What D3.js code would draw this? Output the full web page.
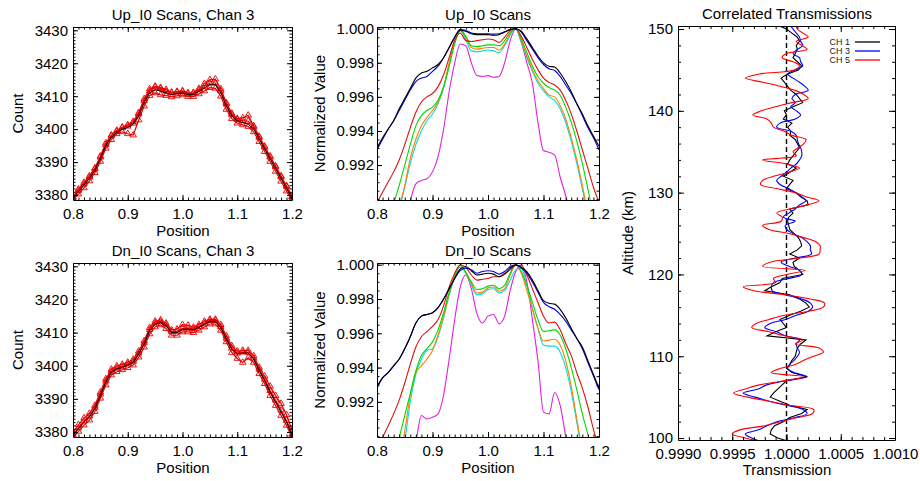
<!DOCTYPE html>
<html>
<head>
<meta charset="utf-8">
<script src="https://cdn.jsdelivr.net/npm/d3@7"></script>
<style>
body { margin: 0; background: #fff; }
svg { font-family: "Liberation Sans", Arial, sans-serif; }
.axis text { font-family: "Liberation Sans", Arial, sans-serif; font-size: 15px; fill: #000; }
.axis path, .axis line { stroke: #000; stroke-width: 1; }
.title { font-size: 15px; fill: #000; text-anchor: middle; }
</style>
</head>
<body>
<svg id="chart" width="920" height="481"></svg>
<script>
// scan positions (shared by the four scan panels)
const positions = [0.80,0.81,0.82,0.83,0.84,0.85,0.86,0.87,0.88,0.89,0.90,0.91,0.92,0.93,0.94,0.95,0.96,0.97,0.98,0.99,
  1.00,1.01,1.02,1.03,1.04,1.05,1.06,1.07,1.08,1.09,1.10,1.11,1.12,1.13,1.14,1.15,1.16,1.17,1.18,1.19,1.20];

// Up_I0 counts, channel 3: mean + individual scans
const upMean = [3379,3381,3383,3385,3387.5,3391,3395,3397.5,3399,3400,3400.5,3401.5,3404,3408,3411,3412,3411.5,3411,3410.5,3410.8,
  3411,3410.5,3410.5,3411.5,3412.5,3413.5,3413.5,3411,3407,3404,3402.5,3402,3401.5,3400,3397,3394,3391,3388,3385,3382,3379];
const upScanA = [3379.5,3381.8,3383.8,3385.8,3388.2,3391.8,3395.8,3398.2,3399.6,3400.6,3401.3,3402.3,3405.0,3409.2,3412.2,3413.0,3412.6,3412.0,3411.2,3411.4,
  3411.6,3411.0,3411.1,3412.3,3413.8,3415.0,3415.2,3412.2,3408.0,3404.8,3403.2,3403.4,3404.2,3401.0,3397.8,3394.8,3391.8,3388.8,3385.8,3382.8,3379.6];
const upScanB = [3378.6,3380.3,3382.2,3384.3,3386.8,3390.2,3394.2,3396.8,3398.6,3399.2,3398.6,3398.2,3402.8,3407.0,3410.2,3411.0,3410.4,3410.2,3409.8,3410.1,
  3410.4,3409.9,3409.9,3410.7,3411.6,3412.6,3412.4,3410.0,3406.0,3403.2,3401.8,3401.3,3400.8,3399.2,3396.2,3393.2,3390.2,3387.2,3384.2,3381.2,3378.6];
const upScanC = [3379.2,3381.4,3383.3,3385.4,3387.9,3391.5,3395.3,3397.9,3399.3,3400.4,3400.9,3401.8,3404.6,3408.6,3411.6,3412.8,3412.3,3411.5,3411.0,3411.2,
  3411.4,3410.8,3410.9,3411.9,3413.0,3414.0,3414.0,3411.6,3407.6,3404.4,3402.9,3402.6,3402.4,3400.6,3397.5,3394.5,3391.5,3388.5,3385.5,3382.6,3379.4];

// Dn_I0 counts, channel 3
const dnMean = [3379,3381,3383,3384.5,3387,3391,3395,3398,3399,3399.5,3400.2,3401,3403.5,3406.5,3410.5,3412.5,3413,3412,3410,3410,
  3411,3411,3410.8,3411.5,3412.5,3413.3,3413.3,3411.5,3408,3405,3403.5,3403.8,3403.8,3402,3398.5,3395.5,3392,3389,3386,3383,3379];
const dnScanA = [3379.8,3382.2,3384.2,3385.6,3388.0,3392.0,3396.0,3398.9,3399.9,3400.4,3401.0,3401.9,3404.4,3407.5,3411.5,3413.4,3413.8,3412.8,3410.8,3411.0,
  3412.4,3412.2,3411.6,3412.4,3413.4,3414.0,3414.0,3412.4,3409.0,3406.0,3404.4,3404.6,3404.6,3403.0,3399.5,3396.8,3393.8,3391.0,3388.6,3385.2,3380.5];
const dnScanB = [3378.4,3380.2,3382.1,3383.6,3386.2,3390.2,3394.2,3397.2,3398.2,3398.8,3399.4,3400.2,3402.6,3405.6,3409.6,3411.7,3412.3,3411.2,3409.2,3409.2,
  3410.2,3410.2,3410.0,3410.7,3411.7,3412.6,3412.6,3410.7,3407.2,3404.0,3402.2,3401.0,3402.4,3401.0,3397.6,3394.6,3391.0,3388.0,3385.0,3382.0,3378.5];
const dnScanC = [3379.1,3381.3,3383.3,3384.8,3387.4,3391.4,3395.4,3398.3,3399.3,3399.8,3400.5,3401.3,3403.8,3406.9,3410.9,3412.9,3413.4,3412.3,3410.3,3410.4,
  3411.3,3411.3,3411.1,3411.8,3412.8,3413.6,3413.6,3411.8,3408.3,3405.3,3403.8,3404.1,3404.0,3402.3,3398.9,3395.9,3392.5,3389.6,3386.6,3383.5,3379.3];

// normalized scans, one per channel colour
const chanColors = ["#000000", "#0000e0", "#e01010", "#00d800", "#ff7f00", "#00dede", "#e020e0"];
const upNorm = [
  [0.9930,0.9936,0.9941,0.9946,0.9953,0.9959,0.9965,0.9971,0.9974,0.9975,0.9977,0.9979,0.9983,0.9989,0.9995,0.9999,0.99985,0.9997,0.99965,0.99965,
   0.99965,0.99962,0.99965,0.9998,0.99995,1.0000,0.99985,0.9994,0.9989,0.9984,0.9980,0.9978,0.99775,0.9974,0.9969,0.9963,0.9956,0.9950,0.9943,0.9937,0.9931],
  [0.9929,0.9935,0.9941,0.9946,0.9952,0.9958,0.9964,0.9969,0.9971,0.9972,0.9975,0.9978,0.9983,0.9989,0.9995,0.99995,0.9999,0.99975,0.9997,0.9997,
   0.9997,0.99968,0.9997,0.99982,0.99995,1.0000,0.9998,0.9993,0.9988,0.9983,0.9979,0.99765,0.99755,0.9972,0.9967,0.9962,0.9956,0.9949,0.9942,0.9936,0.9929],
  [0.9898,0.9904,0.9910,0.9916,0.9923,0.9932,0.9942,0.9951,0.9957,0.9960,0.9962,0.9966,0.9973,0.9983,0.9993,0.99975,0.9993,0.99925,0.9993,0.99935,
   0.9994,0.99935,0.9992,0.9995,0.9999,1.0000,0.99955,0.9989,0.9982,0.9976,0.9971,0.99685,0.9967,0.9964,0.9958,0.9950,0.9940,0.9929,0.9918,0.9907,0.9898],
  [0.9860,0.9870,0.9882,0.9897,0.9908,0.9920,0.9932,0.9943,0.9949,0.9952,0.9954,0.9958,0.9966,0.9978,0.9991,0.9999,0.99955,0.9990,0.99895,0.9990,
   0.99905,0.99905,0.9990,0.9993,0.9998,1.0000,0.9994,0.9986,0.9978,0.9972,0.9968,0.99655,0.9964,0.9961,0.9954,0.9945,0.9934,0.9921,0.9906,0.9890,0.9876],
  [0.9840,0.9852,0.9865,0.9878,0.9895,0.9908,0.9924,0.9935,0.9943,0.9948,0.9952,0.9957,0.9966,0.9980,0.9994,0.99995,0.9995,0.9989,0.9988,0.99885,
   0.9989,0.9989,0.99875,0.9991,0.9997,1.0000,0.9993,0.9984,0.9976,0.99695,0.9965,0.9961,0.9960,0.9955,0.9947,0.9936,0.9923,0.9908,0.9892,0.9878,0.9865],
  [0.9838,0.9850,0.9863,0.9877,0.9893,0.9907,0.9921,0.9932,0.9940,0.9946,0.9950,0.9956,0.9965,0.9979,0.9993,0.9999,0.99935,0.9987,0.99865,0.9987,
   0.99875,0.9987,0.9986,0.9990,0.9996,1.0000,0.9992,0.9983,0.9975,0.9968,0.99635,0.9960,0.9958,0.9953,0.9945,0.9934,0.9921,0.9906,0.9890,0.9876,0.9863],
  [0.9800,0.9810,0.9825,0.9845,0.9865,0.9885,0.9899,0.9909,0.9911,0.9912,0.9916,0.9925,0.9941,0.9963,0.9980,0.9991,0.9990,0.9980,0.99725,0.9972,
   0.99725,0.99715,0.9972,0.9980,0.9993,1.0000,0.9992,0.9980,0.9968,0.9945,0.99285,0.99275,0.9926,0.9913,0.9902,0.9890,0.9875,0.9860,0.9845,0.9830,0.9815]
];
const dnNorm = [
  [0.9929,0.9934,0.9937,0.9941,0.9945,0.9951,0.9958,0.9966,0.9970,0.9971,0.9972,0.9975,0.9980,0.9986,0.9992,0.99975,0.9999,0.99965,0.9994,0.99945,
   0.9995,0.99945,0.9993,0.99945,0.9998,1.0000,0.99985,0.9996,0.9991,0.9985,0.9979,0.99775,0.9977,0.9974,0.9969,0.9963,0.9957,0.9952,0.9944,0.9936,0.9928],
  [0.9928,0.9934,0.9937,0.9941,0.9945,0.9951,0.9958,0.9966,0.9970,0.9971,0.9972,0.9975,0.9980,0.9986,0.9992,0.99965,0.9998,0.9997,0.9995,0.9996,
   0.99965,0.9996,0.99945,0.9996,0.9999,1.0000,0.9998,0.9995,0.9990,0.9984,0.9978,0.99755,0.9974,0.9971,0.9967,0.9962,0.9957,0.9951,0.9943,0.9935,0.9927],
  [0.9890,0.9899,0.9906,0.9913,0.9921,0.9931,0.9942,0.9952,0.9958,0.9961,0.9964,0.9968,0.9976,0.9987,0.9995,1.0000,0.99985,0.9994,0.9991,0.99915,
   0.9992,0.9993,0.9993,0.9995,0.9997,0.99995,0.99995,0.9994,0.9986,0.9978,0.9970,0.9966,0.99665,0.9962,0.9954,0.9947,0.9937,0.9928,0.9917,0.9904,0.9893],
  [0.9850,0.9862,0.9874,0.9886,0.9899,0.9912,0.9925,0.9938,0.9947,0.9951,0.9955,0.9962,0.9972,0.9984,0.9993,0.99995,0.99955,0.9990,0.99855,0.9986,
   0.99875,0.9988,0.9986,0.9988,0.9995,1.0000,0.9996,0.9988,0.9978,0.9968,0.9961,0.99615,0.9962,0.9959,0.9951,0.9940,0.9927,0.9913,0.9901,0.9888,0.9875],
  [0.9830,0.9842,0.9855,0.9869,0.9885,0.9903,0.9924,0.9937,0.9941,0.9945,0.9950,0.9959,0.9970,0.9983,0.9994,1.0000,0.99955,0.9989,0.99835,0.9984,
   0.99865,0.9987,0.99845,0.9986,0.9994,1.0000,0.9995,0.9985,0.9974,0.9963,0.99555,0.9956,0.99565,0.9953,0.9944,0.9929,0.9910,0.9892,0.9878,0.9865,0.9852],
  [0.9828,0.9840,0.9853,0.9866,0.9880,0.9897,0.9920,0.9936,0.9945,0.9950,0.9951,0.9958,0.9969,0.9982,0.9993,0.99985,0.9995,0.9988,0.99825,0.9983,
   0.99855,0.9986,0.99835,0.9985,0.9991,0.9997,0.9998,0.9988,0.9975,0.9963,0.9953,0.99525,0.99525,0.9949,0.9940,0.9926,0.9908,0.9890,0.9876,0.9863,0.9850],
  [0.9790,0.9800,0.9815,0.9835,0.9855,0.9875,0.9890,0.9897,0.9912,0.9910,0.9911,0.9913,0.9924,0.9945,0.9968,0.9987,0.9994,0.9986,0.99715,0.9966,
   0.9970,0.9971,0.99655,0.9970,0.9985,0.9996,1.0000,0.9990,0.9968,0.9944,0.9914,0.9913,0.99255,0.9918,0.9900,0.9883,0.9868,0.9853,0.9838,0.9823,0.9808]
];

// correlated transmission profiles
const altitudes = [150.5,150,149.5,149,148.5,148,147.5,147,146.5,146,145.5,145,144.5,144,143.5,143,142.5,142,141.5,141,
  140.5,140,139.5,139,138.5,138,137.5,137,136.5,136,135.5,135,134.5,134,133.5,133,132.5,132,131.5,131,
  130.5,130,129.5,129,128.5,128,127.5,127,126.5,126,125.5,125,124.5,124,123.5,123,122.5,122,121.5,121,
  120.5,120,119.5,119,118.5,118,117.5,117,116.5,116,115.5,115,114.5,114,113.5,113,112.5,112,111.5,111,
  110.5,110,109.5,109,108.5,108,107.5,107,106.5,106,105.5,105,104.5,104,103.5,103,102.5,102,101.5,101,
  100.5,100,99.5];
const ch1 = [0.99991,1.00000,1.00005,1.00010,1.00012,1.00009,1.00010,1.00008,1.00006,1.00010,
  1.00014,1.00011,1.00001,0.99995,0.99998,1.00001,1.00004,1.00009,1.00012,1.00015,
  1.00006,0.99998,1.00000,0.99997,1.00005,1.00001,1.00004,1.00003,1.00008,1.00010,
  1.00012,1.00009,1.00006,1.00003,1.00001,1.00009,1.00003,0.99997,1.00006,1.00003,
  1.00000,1.00009,1.00013,1.00019,1.00020,1.00003,1.00006,1.00002,1.00001,1.00002,
  1.00003,1.00007,1.00011,1.00013,1.00014,1.00010,1.00003,1.00012,1.00006,1.00007,
  1.00012,1.00015,0.99996,0.99994,0.99986,0.99980,1.00003,1.00012,1.00018,1.00021,
  1.00013,1.00003,0.99994,0.99997,1.00000,0.99990,0.99982,1.00018,1.00013,1.00010,
  1.00009,1.00008,1.00005,1.00003,1.00000,1.00005,1.00019,1.00000,0.99996,0.99992,
  0.99988,0.99985,0.99994,1.00003,1.00019,1.00014,1.00003,0.99997,0.99989,0.99986,
  0.99985,0.99992,1.00004];
const ch3 = [1.00003,1.00006,1.00009,1.00012,1.00013,1.00015,1.00010,1.00006,1.00012,1.00013,
  1.00015,1.00008,1.00001,1.00006,1.00012,1.00017,1.00020,1.00008,1.00005,1.00008,
  1.00004,1.00009,1.00013,1.00008,0.99994,0.99991,1.00004,1.00009,1.00010,1.00011,
  1.00013,1.00014,1.00014,1.00012,1.00009,1.00004,1.00000,0.99995,0.99991,0.99994,
  1.00002,1.00008,1.00014,1.00018,1.00012,1.00008,1.00002,0.99997,1.00008,0.99999,
  1.00000,1.00006,1.00014,1.00019,1.00022,1.00022,1.00023,1.00008,0.99995,1.00002,
  1.00012,1.00014,1.00002,0.99988,0.99986,0.99987,1.00000,1.00014,1.00022,1.00024,
  1.00020,1.00009,0.99999,0.99985,0.99980,0.99991,0.99999,1.00012,1.00009,1.00010,
  1.00012,1.00010,1.00007,1.00003,1.00001,1.00007,1.00019,0.99999,0.99982,0.99974,
  0.99960,0.99971,0.99984,1.00000,1.00015,1.00019,1.00008,0.99991,0.99982,0.99974,
  0.99962,0.99968,0.99978];
const ch5 = [1.00009,1.00010,1.00015,1.00020,1.00009,1.00014,1.00019,1.00000,0.99996,1.00006,
  1.00012,1.00007,0.99975,0.99962,0.99978,0.99994,1.00008,1.00016,1.00020,1.00005,
  0.99990,0.99977,0.99969,0.99982,0.99986,0.99988,0.99998,1.00005,1.00018,1.00016,
  1.00011,1.00006,1.00009,0.99978,1.00000,1.00012,1.00002,0.99988,0.99978,0.99976,
  0.99991,1.00008,1.00018,1.00030,1.00019,1.00003,0.99991,0.99996,0.99995,0.99978,
  0.99984,1.00002,1.00016,1.00027,1.00031,1.00031,1.00030,1.00012,0.99985,0.99978,
  1.00017,1.00000,0.99988,0.99990,0.99960,0.99970,1.00000,1.00022,1.00035,1.00034,
  1.00020,0.99998,0.99984,0.99972,0.99968,0.99984,0.99998,1.00015,1.00008,1.00030,
  1.00034,1.00025,1.00016,1.00008,0.99994,0.99986,1.00016,0.99998,0.99975,0.99962,
  0.99951,0.99964,0.99984,1.00002,1.00025,1.00024,1.00010,0.99995,0.99980,0.99957,
  0.99950,0.99962,0.99980];
const channelNames = ["CH 1", "CH 3", "CH 5"];
const channelColors = ["#000000", "#0000ff", "#ff0000"];

// tick values
const posTicks = [0.8, 0.9, 1.0, 1.1, 1.2];
const countTicks = [3380, 3390, 3400, 3410, 3420, 3430];
const normTicks = [0.992, 0.994, 0.996, 0.998, 1.000];
const transTicks = [0.9990, 0.9995, 1.0000, 1.0005, 1.0010];
const altTicks = [100, 110, 120, 130, 140, 150];

const svg = d3.select("#chart");

function minorTicks(lo, hi, step) {
  const n = Math.round((hi - lo) / step);
  return d3.range(n + 1).map(i => +(lo + i * step).toFixed(6));
}

function drawFrame(g, x, y, f) {
  const [x0, x1] = x.range();
  const [yb, yt] = y.range();
  const xMinor = minorTicks(f.xMinor[0], f.xMinor[1], f.xMinor[2]);
  const yMinor = minorTicks(f.yMinor[0], f.yMinor[1], f.yMinor[2]);
  const sides = [
    { ax: d3.axisBottom(x), t: `translate(0,${yb})`, major: f.xTicks, minor: xMinor, lab: true, pad: f.xPad, fmt: f.xFmt },
    { ax: d3.axisTop(x), t: `translate(0,${yt})`, major: f.xTicks, minor: xMinor, lab: false },
    { ax: d3.axisLeft(y), t: `translate(${x0},0)`, major: f.yTicks, minor: yMinor, lab: true, pad: f.yPad, fmt: f.yFmt },
    { ax: d3.axisRight(y), t: `translate(${x1},0)`, major: f.yTicks, minor: yMinor, lab: false }
  ];
  sides.forEach(s => {
    const gm = g.append("g").attr("class", "axis").attr("transform", s.t);
    gm.call(s.ax.tickValues(s.minor).tickSize(-f.tick / 2).tickSizeOuter(0).tickFormat(""));
    gm.select(".domain").remove();
    const ga = g.append("g").attr("class", "axis").attr("transform", s.t);
    ga.call(s.ax.tickValues(s.major).tickSize(-f.tick).tickSizeOuter(0)
      .tickPadding(s.lab ? s.pad : 0)
      .tickFormat(s.lab ? d3.format(s.fmt) : ""));
  });
}

function addClip(id, x, y) {
  svg.append("clipPath").attr("id", id).append("rect")
    .attr("x", x.range()[0]).attr("y", y.range()[1])
    .attr("width", x.range()[1] - x.range()[0])
    .attr("height", y.range()[0] - y.range()[1]);
}

function title(txt, cx, cy) {
  svg.append("text").attr("class", "title").attr("x", cx).attr("y", cy).text(txt);
}

function yTitle(txt, cx, cy) {
  svg.append("text").attr("class", "title")
    .attr("transform", `translate(${cx},${cy}) rotate(-90)`)
    .attr("dy", "0.35em").text(txt);
}

// count panels
function countPanel(id, top, bottom, mean, scans, name) {
  const x = d3.scaleLinear().domain([0.8, 1.2]).range([73, 292]);
  const y = d3.scaleLinear().domain([3378.5, 3431]).range([bottom, top]);
  addClip(id, x, y);
  const g = svg.append("g").attr("clip-path", `url(#${id})`);
  const line = d3.line().x((d, i) => x(positions[i])).y(d => y(d));
  const tri = d3.symbol().type(d3.symbolTriangle).size(18);
  scans.forEach(s => {
    g.append("path").attr("d", line(s)).attr("fill", "none")
      .attr("stroke", "#e00000").attr("stroke-width", 1.2);
    g.selectAll(null).data(s).enter().append("path")
      .attr("d", tri)
      .attr("transform", (d, i) => `translate(${x(positions[i])},${y(d)})`)
      .attr("fill", "none").attr("stroke", "#e80000").attr("stroke-width", 0.9);
  });
  g.append("path").attr("d", line(mean)).attr("fill", "none")
    .attr("stroke", "#000").attr("stroke-width", 1);
  drawFrame(svg.append("g"), x, y, {
    xTicks: posTicks, yTicks: countTicks, xMinor: [0.8, 1.2, 0.01], yMinor: [3379, 3431, 1],
    tick: 5, xPad: 8, yPad: 5, xFmt: ".1f", yFmt: "d"
  });
  title(name, 183, top - 7);
  title("Position", 183, bottom + 35.5);
  yTitle("Count", 18, (top + bottom) / 2);
}

// normalized panels
function normPanel(id, top, bottom, curves, name) {
  const x = d3.scaleLinear().domain([0.8, 1.2]).range([377, 599]);
  const y = d3.scaleLinear().domain([0.98995, 1.0001]).range([bottom, top]);
  addClip(id, x, y);
  const g = svg.append("g").attr("clip-path", `url(#${id})`);
  const line = d3.line().curve(d3.curveMonotoneX).x((d, i) => x(positions[i])).y(d => y(d));
  curves.slice().reverse().forEach((c, k) => {
    const idx = curves.length - 1 - k;
    g.append("path").attr("d", line(c)).attr("fill", "none")
      .attr("stroke", chanColors[idx]).attr("stroke-width", 1.1);
  });
  drawFrame(svg.append("g"), x, y, {
    xTicks: posTicks, yTicks: normTicks, xMinor: [0.8, 1.2, 0.01], yMinor: [0.9900, 1.0000, 0.0005],
    tick: 5, xPad: 8, yPad: 3, xFmt: ".1f", yFmt: ".3f"
  });
  title(name, 488, top - 7);
  title("Position", 488, bottom + 35.5);
  yTitle("Normalized Value", 320, (top + bottom) / 2);
}

countPanel("c-up", 27, 200, upMean, [upScanA, upScanB, upScanC], "Up_I0 Scans, Chan 3");
countPanel("c-dn", 263, 437, dnMean, [dnScanA, dnScanB, dnScanC], "Dn_I0 Scans, Chan 3");
normPanel("n-up", 27, 200, upNorm, "Up_I0 Scans");
normPanel("n-dn", 263, 437, dnNorm, "Dn_I0 Scans");

// correlated transmissions
(function () {
  const x = d3.scaleLinear().domain([0.9990, 1.0010]).range([678, 895]);
  const y = d3.scaleLinear().domain([99.76, 150.37]).range([440, 26]);
  addClip("tr", x, y);
  const g = svg.append("g").attr("clip-path", "url(#tr)");
  g.append("line")
    .attr("x1", x(1.0)).attr("x2", x(1.0)).attr("y1", y(y.domain()[0])).attr("y2", y(y.domain()[1]))
    .attr("stroke", "#000").attr("stroke-width", 1.4).attr("stroke-dasharray", "5,3");
  const lineS = d3.line().curve(d3.curveCatmullRom.alpha(0.5)).x(d => x(d)).y((d, i) => y(altitudes[i]));
  const lineL = d3.line().x(d => x(d)).y((d, i) => y(altitudes[i]));
  [ch1, ch3, ch5].forEach((c, k) => {
    g.append("path").attr("d", (k === 0 ? lineL : lineS)(c)).attr("fill", "none")
      .attr("stroke", channelColors[k]).attr("stroke-width", 1.1);
  });
  drawFrame(svg.append("g"), x, y, {
    xTicks: transTicks, yTicks: altTicks, xMinor: [0.9990, 1.0010, 0.0001], yMinor: [100, 150, 2],
    tick: 6, xPad: 8, yPad: 5, xFmt: ".4f", yFmt: "d"
  });
  title("Correlated Transmissions", 787, 18.5);
  title("Transmission", 787, 475);
  yTitle("Altitude (km)", 628, 233);

  const leg = svg.append("g");
  channelNames.forEach((n, k) => {
    const ly = 42 + k * 9;
    leg.append("text").attr("x", 850).attr("y", ly).attr("dy", "0.35em")
      .attr("text-anchor", "end").attr("font-size", 9).attr("fill", "#222").text(n);
    leg.append("line").attr("x1", 855).attr("x2", 880).attr("y1", ly).attr("y2", ly)
      .attr("stroke", channelColors[k]).attr("stroke-width", 1.3);
  });
})();
</script>
</body>
</html>
